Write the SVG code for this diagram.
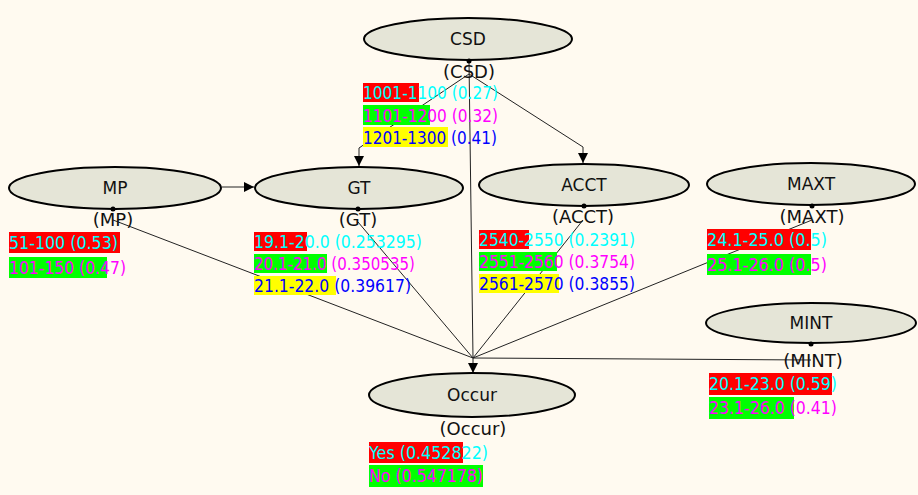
<svg xmlns="http://www.w3.org/2000/svg" width="918" height="495" viewBox="0 0 918 495">
<style>
.node{fill:#E5E5D7;stroke:#000;stroke-width:2}
.name{font-family:"DejaVu Sans",sans-serif;font-size:17px;fill:#111;text-anchor:middle}
.lab{font-family:"DejaVu Sans",sans-serif;font-size:18px;fill:#111;text-anchor:middle}
.t{font-family:"DejaVu Sans",sans-serif;font-size:18px}
.c1{fill:#00FFFF}.c2{fill:#FF00FF}.c3{fill:#0000FF}
.b1{fill:#FF0000}.b2{fill:#00FF00}.b3{fill:#FFFF00}
.edge{fill:none;stroke:#222;stroke-width:1}
</style>
<defs>
<marker id="ah" markerUnits="userSpaceOnUse" markerWidth="10" markerHeight="10" refX="10" refY="5" orient="auto">
<path d="M0,0 L10,5 L0,10 z" fill="#000"/>
</marker>
</defs>
<rect x="0" y="0" width="918" height="495" fill="#FFFAF0"/>
<g id="connectors">
<polyline class="edge" points="469,74 359,148 359,166" marker-end="url(#ah)"/>
<polyline class="edge" points="469,74 583,147 583,163" marker-end="url(#ah)"/>
<line class="edge" x1="222" y1="187" x2="254" y2="187" marker-end="url(#ah)"/>
<line class="edge" x1="469" y1="61" x2="473" y2="358"/>
<line class="edge" x1="113" y1="220" x2="473" y2="358"/>
<line class="edge" x1="358" y1="222" x2="473" y2="358"/>
<line class="edge" x1="583" y1="220" x2="473" y2="358"/>
<line class="edge" x1="812" y1="220" x2="473" y2="358"/>
<line class="edge" x1="811" y1="360" x2="473" y2="358"/>
<line class="edge" x1="473" y1="358" x2="473" y2="373" marker-end="url(#ah)"/>
</g>
<g id="CSD">
<ellipse class="node" cx="468" cy="39" rx="104" ry="21"/>
<text class="name" x="468" y="45">CSD</text>
<circle cx="469" cy="61" r="2.5" fill="#000"/>
<text class="lab" x="469" y="78">(CSD)</text>
<rect class="b1" x="363" y="83" width="56" height="19"/>
<rect class="b2" x="363" y="105" width="67" height="20"/>
<rect class="b3" x="363" y="127" width="85" height="20"/>
<text class="t c1" x="363" y="99" textLength="135" lengthAdjust="spacingAndGlyphs">1001-1100 (0.27)</text>
<text class="t c2" x="363" y="122" textLength="135" lengthAdjust="spacingAndGlyphs">1101-1200 (0.32)</text>
<text class="t c3" x="363" y="144" textLength="134" lengthAdjust="spacingAndGlyphs">1201-1300 (0.41)</text>
</g>
<g id="MP">
<ellipse class="node" cx="115" cy="188" rx="106" ry="21"/>
<text class="name" x="115" y="194">MP</text>
<circle cx="113" cy="209" r="2.5" fill="#000"/>
<text class="lab" x="113" y="226">(MP)</text>
<rect class="b1" x="9" y="232" width="111" height="21"/>
<rect class="b2" x="9" y="257" width="98" height="21"/>
<text class="t c1" x="9" y="249" textLength="109" lengthAdjust="spacingAndGlyphs">51-100 (0.53)</text>
<text class="t c2" x="9" y="274" textLength="117" lengthAdjust="spacingAndGlyphs">101-150 (0.47)</text>
</g>
<g id="GT">
<ellipse class="node" cx="359" cy="188" rx="104" ry="21"/>
<text class="name" x="359" y="194">GT</text>
<circle cx="358" cy="209" r="2.5" fill="#000"/>
<text class="lab" x="358" y="226">(GT)</text>
<rect class="b1" x="254" y="232" width="53" height="19"/>
<rect class="b2" x="254" y="254" width="73" height="19"/>
<rect class="b3" x="254" y="276" width="82" height="19"/>
<text class="t c1" x="254" y="248" textLength="168" lengthAdjust="spacingAndGlyphs">19.1-20.0 (0.253295)</text>
<text class="t c2" x="254" y="270" textLength="161" lengthAdjust="spacingAndGlyphs">20.1-21.0 (0.350535)</text>
<text class="t c3" x="254" y="292" textLength="157" lengthAdjust="spacingAndGlyphs">21.1-22.0 (0.39617)</text>
</g>
<g id="ACCT">
<ellipse class="node" cx="584" cy="185" rx="105" ry="21"/>
<text class="name" x="584" y="191">ACCT</text>
<circle cx="584" cy="206" r="2.5" fill="#000"/>
<text class="lab" x="583" y="223">(ACCT)</text>
<rect class="b1" x="479" y="230" width="50" height="19"/>
<rect class="b2" x="479" y="252" width="78" height="19"/>
<rect class="b3" x="479" y="274" width="80" height="19"/>
<text class="t c1" x="479" y="246" textLength="156" lengthAdjust="spacingAndGlyphs">2540-2550 (0.2391)</text>
<text class="t c2" x="479" y="268" textLength="156" lengthAdjust="spacingAndGlyphs">2551-2560 (0.3754)</text>
<text class="t c3" x="479" y="290" textLength="156" lengthAdjust="spacingAndGlyphs">2561-2570 (0.3855)</text>
</g>
<g id="MAXT">
<ellipse class="node" cx="811" cy="184" rx="104" ry="21"/>
<text class="name" x="811" y="190">MAXT</text>
<circle cx="812" cy="206" r="2.5" fill="#000"/>
<text class="lab" x="812" y="223">(MAXT)</text>
<rect class="b1" x="707" y="229" width="104" height="21"/>
<rect class="b2" x="707" y="254" width="104" height="21"/>
<text class="t c1" x="707" y="246" textLength="120" lengthAdjust="spacingAndGlyphs">24.1-25.0 (0.5)</text>
<text class="t c2" x="707" y="271" textLength="120" lengthAdjust="spacingAndGlyphs">25.1-26.0 (0.5)</text>
</g>
<g id="MINT">
<ellipse class="node" cx="811" cy="323" rx="105" ry="20"/>
<text class="name" x="811" y="329">MINT</text>
<circle cx="811" cy="344" r="2.5" fill="#000"/>
<text class="lab" x="813" y="367">(MINT)</text>
<rect class="b1" x="709" y="373" width="123" height="22"/>
<rect class="b2" x="709" y="397" width="85" height="22"/>
<text class="t c1" x="709" y="390" textLength="128" lengthAdjust="spacingAndGlyphs">20.1-23.0 (0.59)</text>
<text class="t c2" x="709" y="414" textLength="128" lengthAdjust="spacingAndGlyphs">23.1-26.0 (0.41)</text>
</g>
<g id="Occur">
<ellipse class="node" cx="472" cy="395" rx="103" ry="22"/>
<text class="name" x="472" y="401">Occur</text>
<text class="lab" x="473" y="435">(Occur)</text>
<rect class="b1" x="369" y="442" width="94" height="21"/>
<rect class="b2" x="369" y="465" width="114" height="22"/>
<text class="t c1" x="369" y="459" textLength="119" lengthAdjust="spacingAndGlyphs">Yes (0.452822)</text>
<text class="t c2" x="369" y="482" textLength="114" lengthAdjust="spacingAndGlyphs">No (0.547178)</text>
</g>
</svg>
